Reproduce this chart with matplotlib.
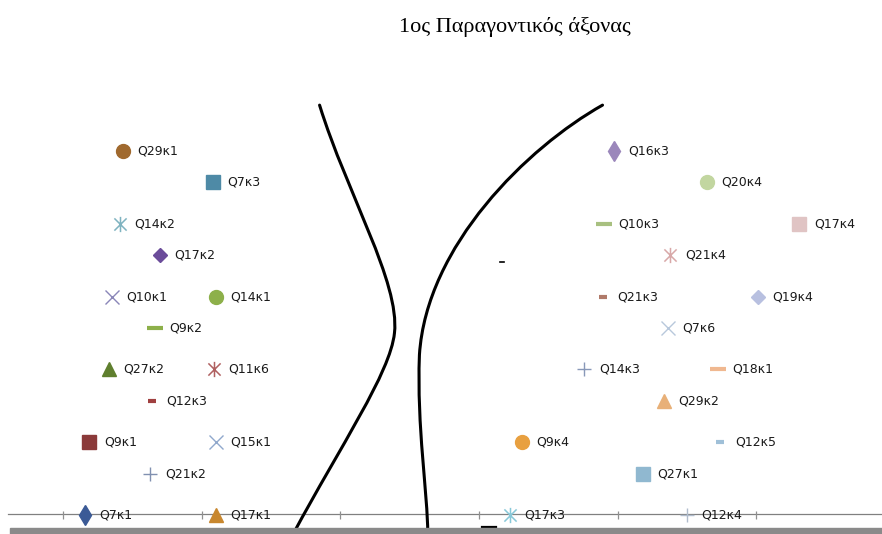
import numpy as np
import matplotlib
matplotlib.use("Agg")
from matplotlib import pyplot as plt
from matplotlib.path import Path
from matplotlib.patches import Rectangle, PathPatch

# points of the factor plot (x in tick units, y in row units)
names = ["Q29κ1", "Q7κ3", "Q14κ2", "Q17κ2", "Q10κ1", "Q14κ1", "Q9κ2", "Q27κ2",
         "Q11κ6", "Q12κ3", "Q9κ1", "Q15κ1", "Q21κ2", "Q7κ1", "Q17κ1",
         "Q16κ3", "Q20κ4", "Q10κ3", "Q17κ4", "Q21κ4", "Q21κ3", "Q19κ4", "Q7κ6",
         "Q14κ3", "Q18κ1", "Q29κ2", "Q9κ4", "Q12κ5", "Q27κ1", "Q17κ3", "Q12κ4"]
xs = [0.43, 1.08, 0.41, 0.70, 0.35, 1.10, 0.66, 0.33,
      1.09, 0.64, 0.19, 1.10, 0.63, 0.16, 1.10,
      3.97, 4.64, 3.90, 5.31, 4.38, 3.89, 5.01, 4.36,
      3.76, 4.72, 4.33, 3.31, 4.74, 4.18, 3.22, 4.50]
ys = [5.0, 4.57, 4.0, 3.57, 3.0, 3.0, 2.57, 2.0,
      2.0, 1.57, 1.0, 1.0, 0.57, 0.0, 0.0,
      5.0, 4.57, 4.0, 4.0, 3.57, 3.0, 3.0, 2.57,
      2.0, 2.0, 1.57, 1.0, 1.0, 0.57, 0.0, 0.0]
colors = ["#a0692e", "#4e8aa6", "#7fb3c0", "#6b4c9a", "#8a86b8", "#8db04a", "#8db04a", "#5f7f2e",
          "#b06060", "#a04040", "#8b3a3a", "#90a8cc", "#8090b0", "#3b5a96", "#c8872e",
          "#9b87bb", "#c2d6a0", "#a8c080", "#e0c4c4", "#d8a8a8", "#b07a6a", "#b8c0e0", "#b8c8dc",
          "#8898b8", "#f0b890", "#e8b078", "#e8a040", "#a0c0d8", "#90b8d0", "#88c8d8", "#b0bccc"]
kinds = ["o", "s", "star", "D", "x", "o", "dash", "^",
         "star", "sdash", "s", "x", "+", "d", "^",
         "d", "o", "dash", "s", "star", "sdash", "D", "x",
         "+", "dash", "^", "o", "sdash", "s", "star", "+"]

# the two hand drawn curves (bezier: start, ctrl, ctrl, mid, ctrl, ctrl, end)
left_curve = [(1.85, 5.63), (2.05, 4.4), (2.43, 3.2), (2.39, 2.5),
              (2.36, 1.95), (2.0, 0.95), (1.66, -0.26)]
right_curve = [(3.89, 5.63), (3.35, 5.05), (2.62, 3.7), (2.57, 2.2),
               (2.55, 1.2), (2.63, 0.3), (2.63, -0.26)]

ticks = [0, 1, 2, 3, 4, 5, 6]

star = Path([(-1, -1), (1, 1), (-1, 1), (1, -1), (0, -1.25), (0, 1.25)],
            [Path.MOVETO, Path.LINETO, Path.MOVETO, Path.LINETO, Path.MOVETO, Path.LINETO])

fig = plt.figure(figsize=(8.82, 5.34), dpi=100)
ax = fig.add_axes([0, 0, 1, 1])
ax.set_xlim(-0.454, 5.905)
ax.set_ylim(-0.261, 7.074)
ax.axis("off")

# axis line with ticks
ax.plot([-0.396, 5.905], [0.02, 0.02], color="#808080", lw=0.9, zorder=1)
ax.vlines(ticks, -0.05, 0.06, color="#909090", lw=0.9, zorder=1)

for n, x, y, c, k in zip(names, xs, ys, colors, kinds):
    if k == "star":
        ax.plot(x, y, marker=star, ms=11, mec=c, mfc="none", mew=1.1, ls="none", zorder=3)
    elif k == "dash":
        ax.plot(x, y, marker="_", ms=11, mec=c, mew=3, ls="none", zorder=3)
    elif k == "sdash":
        ax.plot(x, y, marker="_", ms=6, mec=c, mew=3, ls="none", zorder=3)
    elif k in ("x", "+"):
        ax.plot(x, y, marker=k, ms=10, mec=c, mew=1.0, ls="none", zorder=3)
    elif k == "d":
        ax.plot(x, y, marker="d", ms=10, mec=c, mfc=c, ls="none", zorder=3)
    elif k == "D":
        ax.plot(x, y, marker="D", ms=7, mec=c, mfc=c, ls="none", zorder=3)
    elif k == "s":
        ax.plot(x, y, marker="s", ms=10, mec=c, mfc=c, ls="none", zorder=3)
    else:
        ax.plot(x, y, marker=k, ms=10, mec=c, mfc=c, ls="none", zorder=3)
    ax.annotate(n, (x, y), xytext=(10.5, 0), textcoords="offset points",
                va="center", ha="left", fontsize=9, color="#1a1a1a",
                family=["Liberation Sans Narrow", "DejaVu Sans"], zorder=4)

codes = [Path.MOVETO] + [Path.CURVE4] * 6
for curve in (left_curve, right_curve):
    ax.add_patch(PathPatch(Path(curve, codes), fill=False, edgecolor="black",
                           lw=2.2, capstyle="round", zorder=2))

# small scan specks
ax.plot([3.15, 3.18], [3.47, 3.47], color="black", lw=1.2)
ax.plot([3.02, 3.12], [-0.17, -0.17], color="black", lw=1.6)

# grey strip at the bottom of the scan
fig.patches.append(Rectangle((10 / 882, 0), 1, 6 / 534, transform=fig.transFigure,
                             color="#8a8a8a", zorder=0))

fig.text(515 / 882, 1 - 27 / 534, "1ος Παραγοντικός άξονας", ha="center", va="center",
         fontsize=16, family=["Liberation Serif", "DejaVu Serif"])

fig.savefig("out.png", dpi=100)
